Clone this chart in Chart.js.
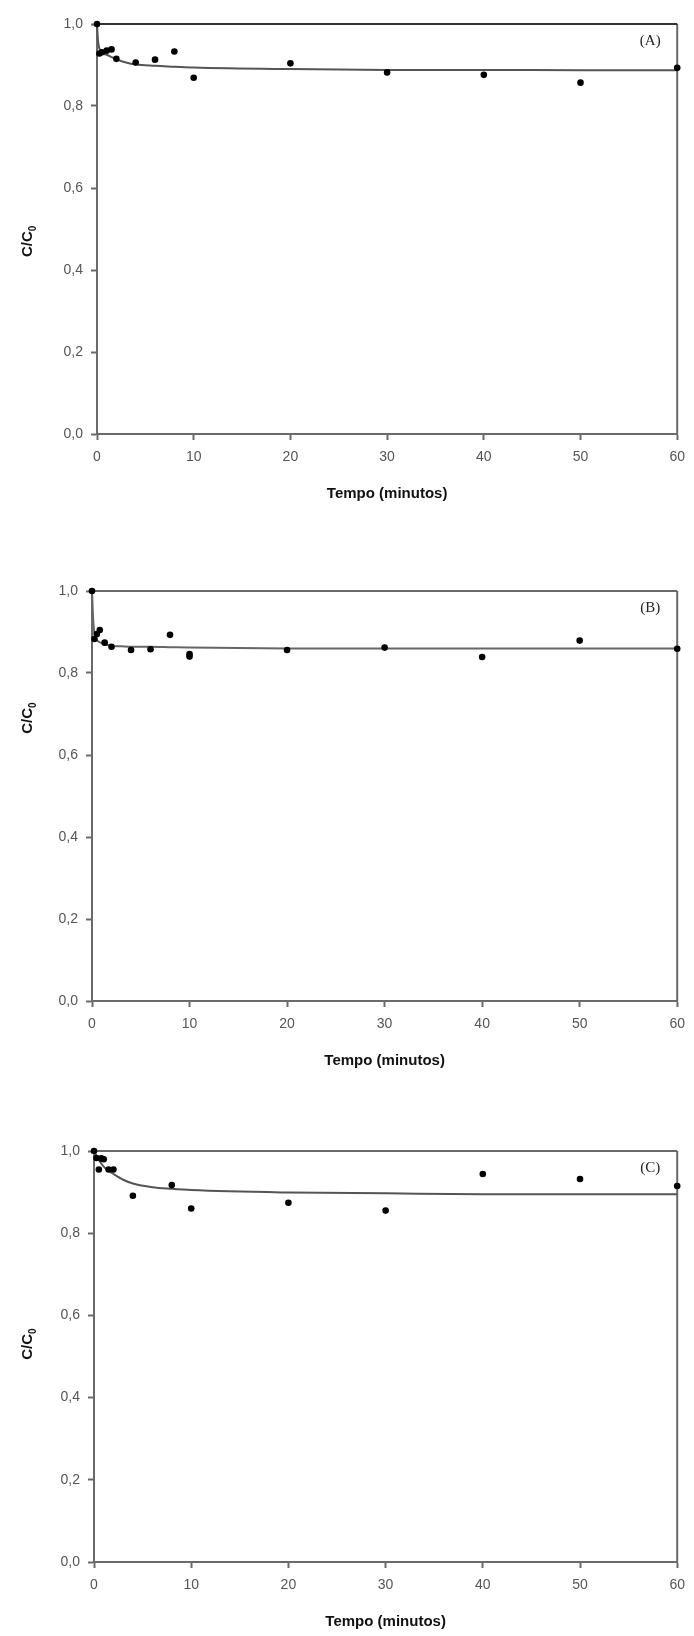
<!DOCTYPE html>
<html lang="pt">
<head>
<meta charset="utf-8">
<title>C/C0 x Tempo</title>
<script src="https://cdn.jsdelivr.net/npm/chart.js@4.4.1/dist/chart.umd.min.js"></script>
<style>
  html, body { margin: 0; padding: 0; background: #fff; }
  #pagina { position: relative; width: 694px; height: 1636px; overflow: hidden; }
  canvas { position: absolute; left: 0; }
</style>
</head>
<body>
<div id="pagina">
  <canvas id="graficoA" width="694" height="520" style="top:0px"></canvas>
  <canvas id="graficoB" width="694" height="540" style="top:560px"></canvas>
  <canvas id="graficoC" width="694" height="526" style="top:1110px"></canvas>
</div>
<script>
const ticksTempo = [0, 10, 20, 30, 40, 50, 60];
const ticksCC0 = [0, 0.2, 0.4, 0.6, 0.8, 1.0];

// Painel (A)
const tempoExpA = [0, 0.25, 0.5, 1, 1.5, 2, 4, 6, 8, 10, 20, 30, 40, 50, 60];
const cc0ExpA = [1.0, 0.928, 0.931, 0.935, 0.938, 0.915, 0.906, 0.913, 0.933, 0.869, 0.904, 0.882, 0.876, 0.857, 0.893];
const tempoModeloA = [0, 0.1, 0.25, 0.5, 1, 1.5, 2, 3, 4, 6, 8, 10, 20, 30, 40, 50, 60];
const cc0ModeloA = [1.0, 0.96, 0.94, 0.93, 0.925, 0.919, 0.914, 0.906, 0.901, 0.898, 0.896, 0.894, 0.890, 0.888, 0.888, 0.887, 0.887];

// Painel (B)
const tempoExpB = [0, 0.25, 0.5, 0.8, 1.3, 2, 4, 6, 8, 10, 10, 20, 30, 40, 50, 60];
const cc0ExpB = [1.0, 0.883, 0.895, 0.905, 0.874, 0.864, 0.856, 0.858, 0.893, 0.846, 0.840, 0.856, 0.862, 0.839, 0.879, 0.859];
const tempoModeloB = [0, 0.05, 0.1, 0.2, 0.3, 0.5, 1, 1.5, 2, 3, 4, 6, 8, 10, 20, 30, 40, 50, 60];
const cc0ModeloB = [1.0, 0.97, 0.94, 0.905, 0.89, 0.88, 0.873, 0.869, 0.866, 0.865, 0.864, 0.864, 0.863, 0.862, 0.860, 0.860, 0.860, 0.860, 0.860];

// Painel (C)
const tempoExpC = [0, 0.25, 0.5, 0.75, 1, 1.5, 2, 4, 8, 10, 20, 30, 40, 50, 60];
const cc0ExpC = [1.0, 0.983, 0.955, 0.982, 0.98, 0.955, 0.955, 0.891, 0.917, 0.86, 0.874, 0.855, 0.944, 0.932, 0.915];
const tempoModeloC = [0, 0.5, 1, 1.5, 2, 3, 4, 6, 8, 10, 20, 30, 40, 50, 60];
const cc0ModeloC = [1.0, 0.978, 0.962, 0.952, 0.944, 0.93, 0.921, 0.912, 0.908, 0.905, 0.899, 0.897, 0.895, 0.895, 0.895];

const fonteEixo = "'Liberation Sans Narrow', 'Liberation Sans', Arial, sans-serif";
const fonteTitulo = "'Liberation Sans', Arial, sans-serif";

// moldura (topo e direita), títulos dos eixos e rótulo do painel
const molduraPlugin = {
  id: 'moldura',
  beforeDatasetsDraw(chart, args, opts) {
    const { ctx, chartArea: a } = chart;
    ctx.save();
    ctx.lineWidth = 2;
    ctx.strokeStyle = opts.corBorda;
    ctx.beginPath();
    ctx.moveTo(a.right, a.top);
    ctx.lineTo(a.right, a.bottom);
    ctx.stroke();
    ctx.strokeStyle = opts.corTopo || opts.corBorda;
    ctx.beginPath();
    ctx.moveTo(a.left, a.top);
    ctx.lineTo(a.right, a.top);
    ctx.stroke();
    ctx.restore();
  },
  afterDraw(chart, args, opts) {
    const { ctx, chartArea: a } = chart;
    ctx.save();
    ctx.fillStyle = '#111';

    // título eixo x
    ctx.font = 'bold 15px ' + fonteTitulo;
    ctx.textAlign = 'center';
    ctx.textBaseline = 'middle';
    ctx.fillText('Tempo (minutos)', (a.left + a.right) / 2, a.bottom + 60);

    // título eixo y: C/C0 com subscrito
    const yTitulo = chart.scales.y.getPixelForValue(opts.nivelTituloY);
    ctx.translate(27, yTitulo);
    ctx.rotate(-Math.PI / 2);
    ctx.font = 'bold 15px ' + fonteTitulo;
    const largura = ctx.measureText('C/C').width;
    ctx.font = 'bold 10px ' + fonteTitulo;
    const larguraSub = ctx.measureText('0').width;
    const x0 = -(largura + larguraSub) / 2;
    ctx.textAlign = 'left';
    ctx.textBaseline = 'alphabetic';
    ctx.font = 'bold 15px ' + fonteTitulo;
    ctx.fillText('C/C', x0, 5);
    ctx.font = 'bold 10px ' + fonteTitulo;
    ctx.fillText('0', x0 + largura, 9);
    ctx.restore();

    // rótulo (A), (B), (C)
    ctx.save();
    ctx.fillStyle = '#222';
    ctx.font = '15px "Liberation Serif", "Times New Roman", serif';
    ctx.textAlign = 'center';
    ctx.textBaseline = 'middle';
    ctx.fillText(opts.rotulo, a.right - 27, a.top + 17);
    ctx.restore();
  }
};

function montarGrafico(id, tempoExp, cc0Exp, tempoModelo, cc0Modelo, pad, extra) {
  const pontos = tempoExp.map((t, i) => ({ x: t, y: cc0Exp[i] }));
  const modelo = tempoModelo.map((t, i) => ({ x: t, y: cc0Modelo[i] }));

  return new Chart(document.getElementById(id), {
    type: 'scatter',
    data: {
      datasets: [
        {
          label: 'Experimental',
          data: pontos,
          backgroundColor: '#000',
          borderColor: '#000',
          pointRadius: 3.3,
          pointBorderWidth: 0,
          clip: false
        },
        {
          label: 'Modelo',
          data: modelo,
          showLine: true,
          borderColor: extra.corLinha,
          borderWidth: 2,
          pointRadius: 0,
          cubicInterpolationMode: 'monotone',
          clip: false
        }
      ]
    },
    options: {
      responsive: false,
      animation: false,
      devicePixelRatio: 1,
      layout: { padding: pad },
      plugins: {
        legend: { display: false },
        tooltip: { enabled: false },
        moldura: extra
      },
      scales: {
        x: {
          type: 'linear',
          min: 0,
          max: 60,
          afterBuildTicks: s => { s.ticks = ticksTempo.map(v => ({ value: v })); },
          afterFit: s => { s.height = 40; },
          grid: { drawOnChartArea: false, drawTicks: true, tickLength: 6, tickColor: '#6a6a6a', tickWidth: 2 },
          border: { display: true, color: '#6a6a6a', width: 2 },
          ticks: {
            padding: 9,
            color: '#555',
            font: { family: fonteEixo, size: 14 },
            maxRotation: 0
          }
        },
        y: {
          type: 'linear',
          min: 0,
          max: 1,
          afterBuildTicks: s => { s.ticks = ticksCC0.map(v => ({ value: v })); },
          afterFit: s => { s.width = 60; },
          grid: { drawOnChartArea: false, drawTicks: true, tickLength: 6, tickColor: '#6a6a6a', tickWidth: 2 },
          border: { display: true, color: '#6a6a6a', width: 2 },
          ticks: {
            padding: 8,
            color: '#555',
            font: { family: fonteEixo, size: 14 },
            callback: v => v.toFixed(1).replace('.', ',')
          }
        }
      }
    },
    plugins: [molduraPlugin]
  });
}

montarGrafico('graficoA', tempoExpA, cc0ExpA, tempoModeloA, cc0ModeloA,
  { top: 24, right: 11, left: 37, bottom: 46 },
  { rotulo: '(A)', corBorda: '#6a6a6a', corTopo: '#333', corLinha: '#555', nivelTituloY: 0.47 });

montarGrafico('graficoB', tempoExpB, cc0ExpB, tempoModeloB, cc0ModeloB,
  { top: 31, right: 16, left: 32, bottom: 59 },
  { rotulo: '(B)', corBorda: '#6a6a6a', corLinha: '#666', nivelTituloY: 0.69 });

montarGrafico('graficoC', tempoExpC, cc0ExpC, tempoModeloC, cc0ModeloC,
  { top: 41, right: 15, left: 34, bottom: 34 },
  { rotulo: '(C)', corBorda: '#6a6a6a', corLinha: '#555', nivelTituloY: 0.53 });
</script>
</body>
</html>
